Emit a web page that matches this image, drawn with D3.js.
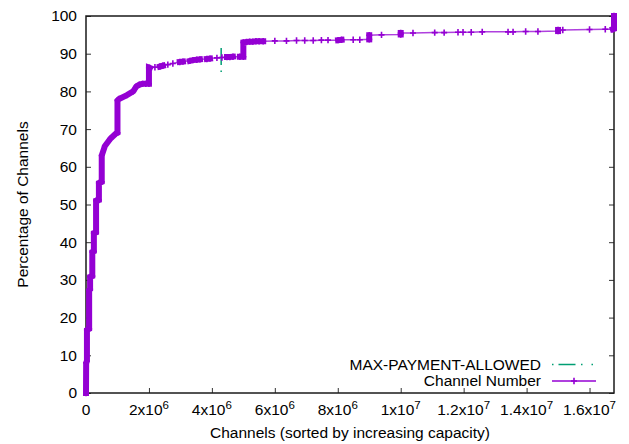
<!DOCTYPE html>
<html><head><meta charset="utf-8">
<script src="https://cdn.jsdelivr.net/npm/d3@7"></script>
<style>
body{margin:0;background:#fff}
svg text{font-family:"Liberation Sans",Arial,Helvetica,sans-serif;fill:#000}
</style>
</head><body>
<svg id="c" width="629" height="444"></svg>
<script>
// ---- data ----
const capacity = [
  0, 5000, 30000, 30000, 100000, 100000, 130000, 130000, 200000, 200000,
  250000, 250000, 320000, 320000, 410000, 410000, 500000, 500000, 600000, 780000,
  950000, 1000000, 1000000, 1050000, 1300000, 1500000, 1600000, 1700000, 1800000, 1900000,
  2000000, 2000000, 2030000, 2190000, 2350000, 2440000, 2600000, 2760000, 2980000, 3080000,
  3300000, 3400000, 3520000, 3620000, 3840000, 3940000, 4160000, 4320000, 4480000, 4570000,
  4670000, 4890000, 5000000, 5000000, 5100000, 5200000, 5300000, 5400000, 5500000, 5630000,
  6000000, 6370000, 6690000, 6950000, 7220000, 7480000, 7690000, 8010000, 8120000, 8490000,
  8700000, 9000000, 9000000, 9390000, 10000000, 10000000, 10390000, 11080000, 11380000, 11820000,
  11980000, 12240000, 12590000, 13410000, 13570000, 13970000, 14360000, 15000000, 15000000, 15150000,
  16000000, 16500000, 16740000, 16777215, 16777215
];
const percentage = [
  0, 8, 8.5, 16.7, 17, 27.3, 27.5, 30.8, 31, 37.4,
  37.6, 42.4, 42.6, 51, 51.2, 55.7, 56, 63, 65.5, 67.5,
  68.8, 69, 77.6, 78, 79, 80, 81.3, 81.8, 82, 82,
  82, 86.3, 86.2, 86.4, 86.6, 86.8, 87.1, 87.4, 87.8, 87.9,
  88.1, 88.3, 88.4, 88.5, 88.6, 88.7, 88.9, 89.0, 89.1, 89.1,
  89.2, 89.2, 89.2, 93.0, 93.1, 93.2, 93.2, 93.3, 93.3, 93.3,
  93.4, 93.4, 93.5, 93.5, 93.5, 93.6, 93.6, 93.6, 93.7, 93.7,
  93.7, 93.8, 94.9, 95.0, 95.1, 95.5, 95.5, 95.6, 95.6, 95.7,
  95.7, 95.7, 95.8, 95.8, 95.8, 95.9, 95.9, 96.0, 96.3, 96.3,
  96.4, 96.5, 96.5, 96.6, 100
];
const maxPaymentCapacity = [4294967, 4294967];
const maxPaymentPercent = [91.5, 85];
const xTickValues = [0, 2e6, 4e6, 6e6, 8e6, 1e7, 1.2e7, 1.4e7, 1.6e7];
const xTickMantissa = ["0", "2", "4", "6", "8", "1", "1.2", "1.4", "1.6"];
const xTickExponent = ["", "6", "6", "6", "6", "7", "7", "7", "7"];
const yTickValues = [0, 10, 20, 30, 40, 50, 60, 70, 80, 90, 100];
const seriesNames = ["MAX-PAYMENT-ALLOWED", "Channel Number"];
const xTitle = "Channels (sorted by increasing capacity)";
const yTitle = "Percentage of Channels";

// ---- drawing ----
const L = 86, R = 614, T = 16, B = 393;
const purple = "#9400d3", green = "#009e73";
const FS = 15.5;
const svg = d3.select("#c");
const x = d3.scaleLinear().domain([0, 16777215]).range([L, R]);
const y = d3.scaleLinear().domain([0, 100]).range([B, T]);

// ticks
const gx = svg.append("g").attr("transform", `translate(0,${B})`)
  .call(d3.axisBottom(x).tickValues(xTickValues).tickSize(-5).tickSizeOuter(0).tickFormat(""));
const gyl = svg.append("g").attr("transform", `translate(${L},0)`)
  .call(d3.axisLeft(y).tickValues(yTickValues).tickSize(-5).tickSizeOuter(0).tickPadding(9));
const gyr = svg.append("g").attr("transform", `translate(${R},0)`)
  .call(d3.axisRight(y).tickValues(yTickValues).tickSize(-5).tickSizeOuter(0).tickFormat(""));
[gx, gyl, gyr].forEach(g => {
  g.select(".domain").remove();
  g.selectAll(".tick line").attr("stroke", "#333").attr("stroke-width", 1);
  g.attr("font-size", null).attr("font-family", null);
});
gyl.selectAll(".tick text").attr("font-size", FS).attr("fill", "#000");

// x tick labels with superscripts
const xl = svg.append("g");
xTickValues.forEach((v, i) => {
  const t = xl.append("text").attr("x", x(v)).attr("y", 415)
    .attr("text-anchor", "middle").attr("font-size", FS);
  if (xTickExponent[i] === "") {
    t.text(xTickMantissa[i]);
  } else {
    t.append("tspan").text(xTickMantissa[i] + "x10");
    t.append("tspan").attr("dy", -6).attr("font-size", 11.5).text(xTickExponent[i]);
  }
});

// border
svg.append("rect").attr("x", L).attr("y", T).attr("width", R - L).attr("height", B - T)
  .attr("fill", "none").attr("stroke", "#1a1a1a").attr("stroke-width", 1.5);

// titles
svg.append("text").attr("x", (L + R) / 2).attr("y", 438).attr("text-anchor", "middle")
  .attr("font-size", FS).text(xTitle);
svg.append("text").attr("transform", `translate(28,${(T + B) / 2}) rotate(-90)`)
  .attr("text-anchor", "middle").attr("font-size", FS).text(yTitle);

// MAX-PAYMENT-ALLOWED line
const mp = maxPaymentCapacity.map((c, i) => [c, maxPaymentPercent[i]]);
svg.append("path").attr("d", d3.line().x(d => x(d[0])).y(d => y(d[1]))(mp))
  .attr("fill", "none").attr("stroke", green).attr("stroke-width", 1.5)
  .attr("stroke-dasharray", "17,5.5,1.5,20");

// Channel Number series
const pts = capacity.map((c, i) => [c, percentage[i]]);
const line = d3.line().x(d => x(d[0])).y(d => y(d[1]));
const gs = svg.append("g");
gs.append("path").attr("d", line(pts))
  .attr("fill", "none").attr("stroke", purple).attr("stroke-width", 1.5).attr("stroke-opacity", 0.75);
// where channels are densely packed, stacked markers form a solid band:
// group consecutive dense segments into runs and stroke them thick
const runs = [];
let cur = null;
for (let i = 1; i < pts.length; i++) {
  const dx = Math.abs(x(pts[i][0]) - x(pts[i - 1][0]));
  const dy = Math.abs(y(pts[i][1]) - y(pts[i - 1][1]));
  const dense = (dy > 0.35 * dx && dy > 0.5) || dx < 4.5;
  if (dense) {
    if (!cur) { cur = [pts[i - 1]]; runs.push(cur); }
    cur.push(pts[i]);
  } else cur = null;
}
gs.selectAll("path.band").data(runs).join("path").attr("class", "band")
  .attr("d", line).attr("fill", "none").attr("stroke", purple).attr("stroke-width", 6)
  .attr("stroke-linecap", "square").attr("stroke-linejoin", "miter");
const plus = "M-3,0H3M0,-3.2V3.2";
gs.selectAll("path.m").data(pts).join("path").attr("class", "m")
  .attr("transform", d => `translate(${x(d[0])},${y(d[1])})`)
  .attr("d", plus).attr("fill", "none").attr("stroke", purple).attr("stroke-width", 1.6);

// legend
const lg = svg.append("g");
lg.append("text").attr("x", 541).attr("y", 370).attr("text-anchor", "end")
  .attr("font-size", FS).text(seriesNames[0]);
lg.append("text").attr("x", 541).attr("y", 386).attr("text-anchor", "end")
  .attr("font-size", FS).text(seriesNames[1]);
lg.append("line").attr("x1", 552).attr("x2", 593).attr("y1", 364.5).attr("y2", 364.5)
  .attr("stroke", green).attr("stroke-width", 1.5).attr("stroke-dasharray", "1.5,5,17,5.5,1.5,9,1.5,5");
lg.append("line").attr("x1", 552).attr("x2", 596).attr("y1", 381).attr("y2", 381)
  .attr("stroke", purple).attr("stroke-width", 1.5);
lg.append("path").attr("transform", "translate(574,381)").attr("d", plus)
  .attr("fill", "none").attr("stroke", purple).attr("stroke-width", 1.6);
</script>
</body></html>
